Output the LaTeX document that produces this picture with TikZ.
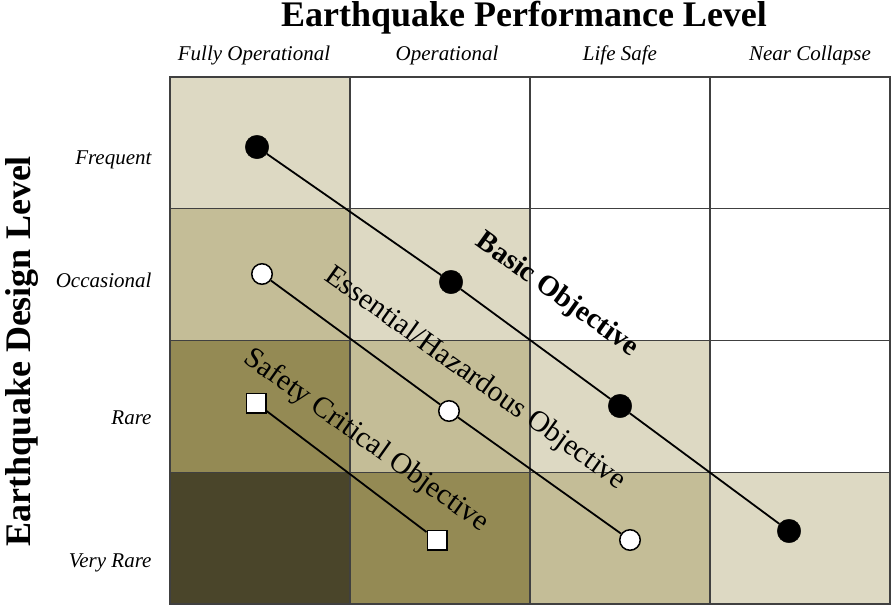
\documentclass[tikz,border=0pt]{standalone}
\usepackage{fontspec}
\setmainfont{Liberation Serif}
\usepackage{xcolor}
\usetikzlibrary{positioning}
\definecolor{tan light}{HTML}{DDD9C3}
\definecolor{tan mid}{HTML}{C4BD97}
\definecolor{tan olive}{HTML}{948A54}
\definecolor{tan dark}{HTML}{4A452A}

\begin{document}
\begin{tikzpicture}[x=1pt,y=-1pt,
cell/.style={draw=black!75, line width=1.3pt},
link/.style={line width=1.8pt},
full point/.style={circle, draw=black, fill=black, inner sep=0pt, minimum size=23.5pt},
open point/.style={circle, draw=black, fill=white, line width=1.5pt, inner sep=0pt, minimum size=20.5pt},
square point/.style={rectangle, draw=black, fill=white, line width=1.5pt, inner sep=0pt, minimum size=19.5pt},
level/.style={font=\fontsize{21}{23}\selectfont\itshape},
heading/.style={font=\fontsize{36}{38}\selectfont\bfseries},
objective/.style={font=\fontsize{29.5}{31}\selectfont, rotate=-35.5, inner sep=0pt}]
\useasboundingbox (0,0) rectangle (896,608);
% the grid of design level against performance level
\foreach \c/\r/\shade in {1/1/tan light,2/1/white,3/1/white,4/1/white,
  1/2/tan mid,2/2/tan light,3/2/white,4/2/white,
  1/3/tan olive,2/3/tan mid,3/3/tan light,4/3/white,
  1/4/tan dark,2/4/tan olive,3/4/tan mid,4/4/tan light}
{
\draw [cell, fill=\shade] ({170+180*(\c-1)},{77+131.75*(\r-1)}) rectangle ++(180,131.75);
}
% headings
\node [heading] (performance) at (524,18) {Earthquake Performance Level};
\node [heading, rotate=90] (design) at (22,351) {Earthquake Design Level};
\foreach \name/\x/\txt in {fully/254/Fully Operational,operational/447/Operational,
  life/620/Life Safe,near/810/Near Collapse}
{
\node [level] (col \name) at (\x,55) {\txt};
}
\foreach \name/\y/\txt in {frequent/160/Frequent,occasional/280/Occasional,
  rare/418/Rare,very rare/563/Very Rare}
{
\node [level, anchor=east] (row \name) at (155,\y) {\txt};
}
% objectives
\node [full point] (basic 1) at (257,147) {};
\node [full point] (basic 2) at (451,282) {};
\node [full point] (basic 3) at (620,406) {};
\node [full point] (basic 4) at (789,531) {};
\node [open point] (essential 1) at (262,274) {};
\node [open point] (essential 2) at (449,411) {};
\node [open point] (essential 3) at (630,540) {};
\node [square point] (safety 1) at (256,403) {};
\node [square point] (safety 2) at (437,540) {};
\draw [link] (basic 1) -- (basic 2) -- (basic 3) -- (basic 4);
\draw [link] (essential 1) -- (essential 2) -- (essential 3);
\draw [link] (safety 1) -- (safety 2);

\node [objective, font=\fontsize{29}{31}\selectfont\bfseries] (basic label) at (557,295) {Basic Objective};
\node [objective] (essential label) at (475,379) {Essential/Hazardous Objective};
\node [objective] (safety label) at (366,441) {Safety Critical Objective};
\end{tikzpicture}
\end{document}
